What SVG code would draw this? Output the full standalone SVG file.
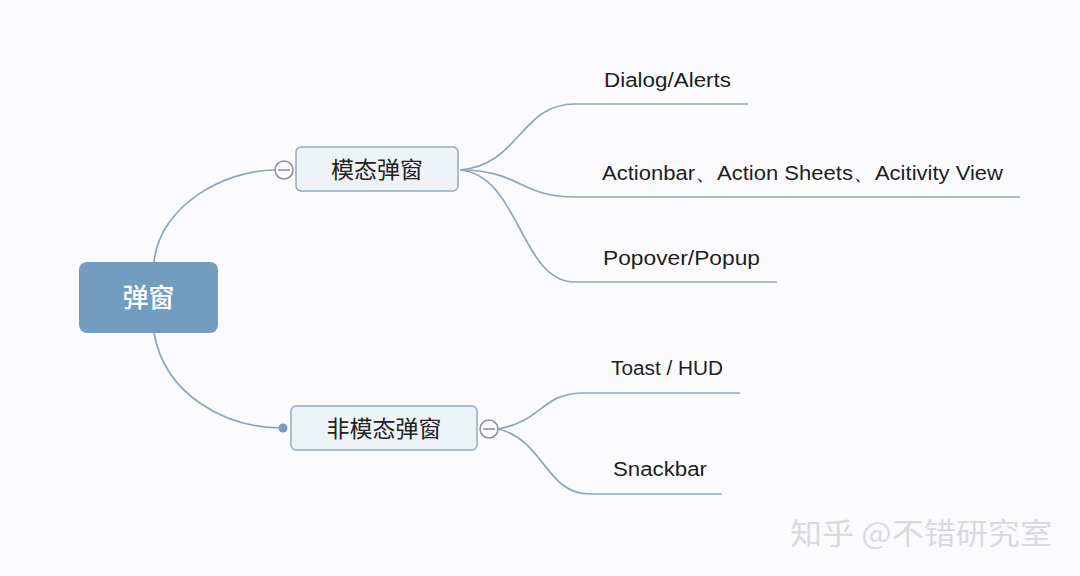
<svg xmlns="http://www.w3.org/2000/svg" width="1080" height="576" viewBox="0 0 1080 576">
<style>
.link{fill:none;stroke:#8ea6bb;stroke-width:1.7}
.sub{fill:#eef3f8;stroke:#93abc2;stroke-width:1.5}
.cn{font-family:"Noto Sans CJK SC","Noto Sans",sans-serif;font-size:23px;fill:#222;text-anchor:middle}
.lbl{font-family:"Liberation Sans","DejaVu Sans",sans-serif;font-size:20px;fill:#1e1e1e}
.tog{fill:#fbfbfd;stroke:#8a8f96;stroke-width:1.5}
</style>
<rect width="1080" height="576" fill="#fbfbfd"/>
<g id="connectors">
<path class="link" d="M154,262 C160,205 225,170 275,170"/>
<path class="link" d="M154,333 C165,395 225,428 283,428"/>
<path class="link" d="M460,170 C520,165 520,104 575,104 L748,104"/>
<path class="link" d="M460,170 C520,170 520,197 575,197 L1020,197"/>
<path class="link" d="M460,170 C520,175 520,282 575,282 L777,282"/>
<path class="link" d="M498,429 C545,420 540,393 585,393 L740,393"/>
<path class="link" d="M498,429 C545,440 545,494 590,494 L722,494"/>
</g>
<g id="root">
<rect x="79" y="262" width="139" height="71" rx="8" fill="#729dc0"/>
<text x="148.5" y="307" class="cn" style="fill:#fff;font-size:26px;font-weight:500">弹窗</text>
</g>
<g id="modal">
<rect class="sub" x="296" y="147" width="162" height="44" rx="5"/>
<text x="377" y="178" class="cn">模态弹窗</text>
<circle class="tog" cx="284" cy="170" r="9"/>
<line x1="278" y1="170" x2="290" y2="170" stroke="#8a8f96" stroke-width="1.5"/>
</g>
<g id="nonmodal">
<rect class="sub" x="291" y="406" width="186" height="44" rx="5"/>
<text x="384" y="437" class="cn">非模态弹窗</text>
<circle class="tog" cx="489" cy="429" r="9"/>
<line x1="483" y1="429" x2="495" y2="429" stroke="#8a8f96" stroke-width="1.5"/>
<circle cx="283" cy="428" r="4.5" fill="#729dc0"/>
</g>
<g id="dialog"><text class="lbl" x="604" y="87" textLength="127" lengthAdjust="spacingAndGlyphs">Dialog/Alerts</text></g>
<g id="actionbar"><text class="lbl" x="602" y="180" textLength="401" lengthAdjust="spacingAndGlyphs">Actionbar、Action Sheets、Acitivity View</text></g>
<g id="popover"><text class="lbl" x="603" y="265" textLength="157" lengthAdjust="spacingAndGlyphs">Popover/Popup</text></g>
<g id="toast"><text class="lbl" x="611" y="375" textLength="112" lengthAdjust="spacingAndGlyphs">Toast / HUD</text></g>
<g id="snackbar"><text class="lbl" x="613" y="476" textLength="94" lengthAdjust="spacingAndGlyphs">Snackbar</text></g>
<text x="790" y="544" font-family="Noto Sans CJK SC,sans-serif" font-size="30" fill="#dadadd" textLength="262" lengthAdjust="spacingAndGlyphs">知乎 @不错研究室</text>
</svg>
